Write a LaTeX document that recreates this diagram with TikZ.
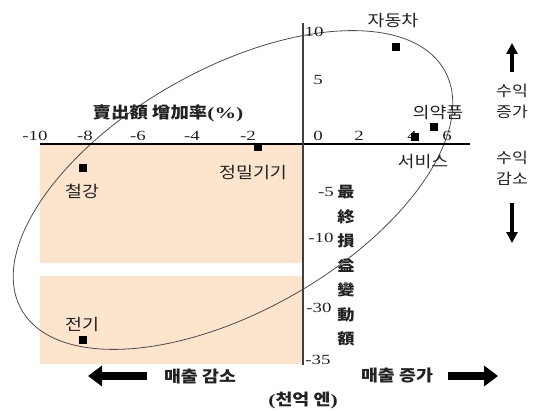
\documentclass[tikz,border=0pt]{standalone}
\usepackage{fontspec}
\setmainfont{Liberation Serif}
\newfontfamily\numfont[FakeStretch=1.35]{Liberation Serif}
\newfontfamily\cjk[FakeStretch=1.15]{Noto Sans CJK KR}
\usetikzlibrary{arrows.meta}
\definecolor{peach}{HTML}{FDE4CD}
\definecolor{ink}{HTML}{222222}
\tikzset{
  num/.style={font=\numfont\fontsize{14}{14}\selectfont, text=ink, inner sep=0pt},
  klabel/.style={font=\cjk\fontsize{16}{16}\selectfont, text=ink, inner sep=0pt},
  kbold/.style={font=\cjk\bfseries\fontsize{16}{16}\selectfont, text=ink, inner sep=0pt},
  marker/.style={fill=black, minimum size=8.5pt, inner sep=0pt},
  bigarrow/.style={line width=8pt, -{Triangle[length=14pt,width=20pt]}, black},
  smallarrow/.style={line width=4.5pt, -{Triangle[length=11pt,width=11pt]}, black}
}
\begin{document}
\begin{tikzpicture}[x=1pt,y=-1pt]
\useasboundingbox (0,0) rectangle (534,411);
% shaded region
\fill[peach] (40,145) rectangle (303,263);
\fill[peach] (40,276) rectangle (303,364);
% ellipse
\draw[black!70, line width=0.8pt, rotate around={29.5:(233,190)}] (233,190) ellipse [x radius=243pt, y radius=121pt];
% axes
\coordinate (xl) at (40,144);
\coordinate (xr) at (470,144);
\coordinate (yt) at (303,23);
\coordinate (yb) at (303,365);
\draw[line width=2pt, black] (xl) -- (xr);
\draw[line width=2.5pt, black!75] (yt) -- (yb);
% x tick labels
\node[num] (xm10) at (35,136) {-10};
\node[num] (xm8) at (85,136) {-8};
\node[num] (xm6) at (138,136) {-6};
\node[num] (xm4) at (192,136) {-4};
\node[num] (xm2) at (248,136) {-2};
\node[num] (x0) at (318,136) {0};
\node[num] (x2) at (359,136) {2};
\node[num] (x4) at (412,136) {4};
\node[num] (x6) at (447,136) {6};
% y tick labels
\node[num] (y10) at (314,32) {10};
\node[num] (y5) at (318,80) {5};
\node[num] (ym5) at (326,192) {-5};
\node[num] (ym10) at (321,238) {-10};
\node[num] (ym30) at (319,308) {-30};
\node[num] (ym35) at (318,360) {-35};
% axis titles
\node[kbold] (xtitle) at (168,113) {賣出額 增加率{\numfont\bfseries(\%)}};
\node[klabel, align=center, font=\cjk\bfseries\fontsize{15}{24.5}\selectfont] (ytitle) at (346,266) {最\\終\\損\\益\\變\\動\\額};
% markers
\node[marker] (mauto) at (396,47) {};
\node[marker] (mpharm) at (434,127) {};
\node[marker] (mserv) at (415,137) {};
\node[marker] (mprec) at (258,147) {};
\node[marker] (msteel) at (83,168) {};
\node[marker] (melec) at (83,340) {};
% labels
\node[klabel] (lauto) at (393,21) {자동차};
\node[klabel] (lpharm) at (438,113) {의약품};
\node[klabel] (lserv) at (423,162) {서비스};
\node[klabel] (lprec) at (253,173) {정밀기기};
\node[klabel] (lsteel) at (82,191) {철강};
\node[klabel] (lelec) at (82,325) {전기};
% right side
\coordinate (uat) at (512,72);
\coordinate (uah) at (512,43);
\draw[smallarrow] (uat) -- (uah);
\node[klabel, align=center, font=\cjk\fontsize{15}{21}\selectfont] (rinc) at (512,101) {수익\\증가};
\node[klabel, align=center, font=\cjk\fontsize{15}{21}\selectfont] (rdec) at (512,168) {수익\\감소};
\coordinate (dat) at (512,203);
\coordinate (dah) at (512,243);
\draw[smallarrow] (dat) -- (dah);
% bottom
\coordinate (lat) at (147,376);
\coordinate (lah) at (88,376);
\draw[bigarrow] (lat) -- (lah);
\node[kbold] (sdec) at (200,376) {매출 감소};
\node[kbold] (sinc) at (397,376) {매출 증가};
\coordinate (rat) at (448,376);
\coordinate (rah) at (498,376);
\draw[bigarrow] (rat) -- (rah);
\node[kbold] (unit) at (303,400) {{\numfont\bfseries(}천억 엔{\numfont\bfseries)}};
\end{tikzpicture}
\end{document}
